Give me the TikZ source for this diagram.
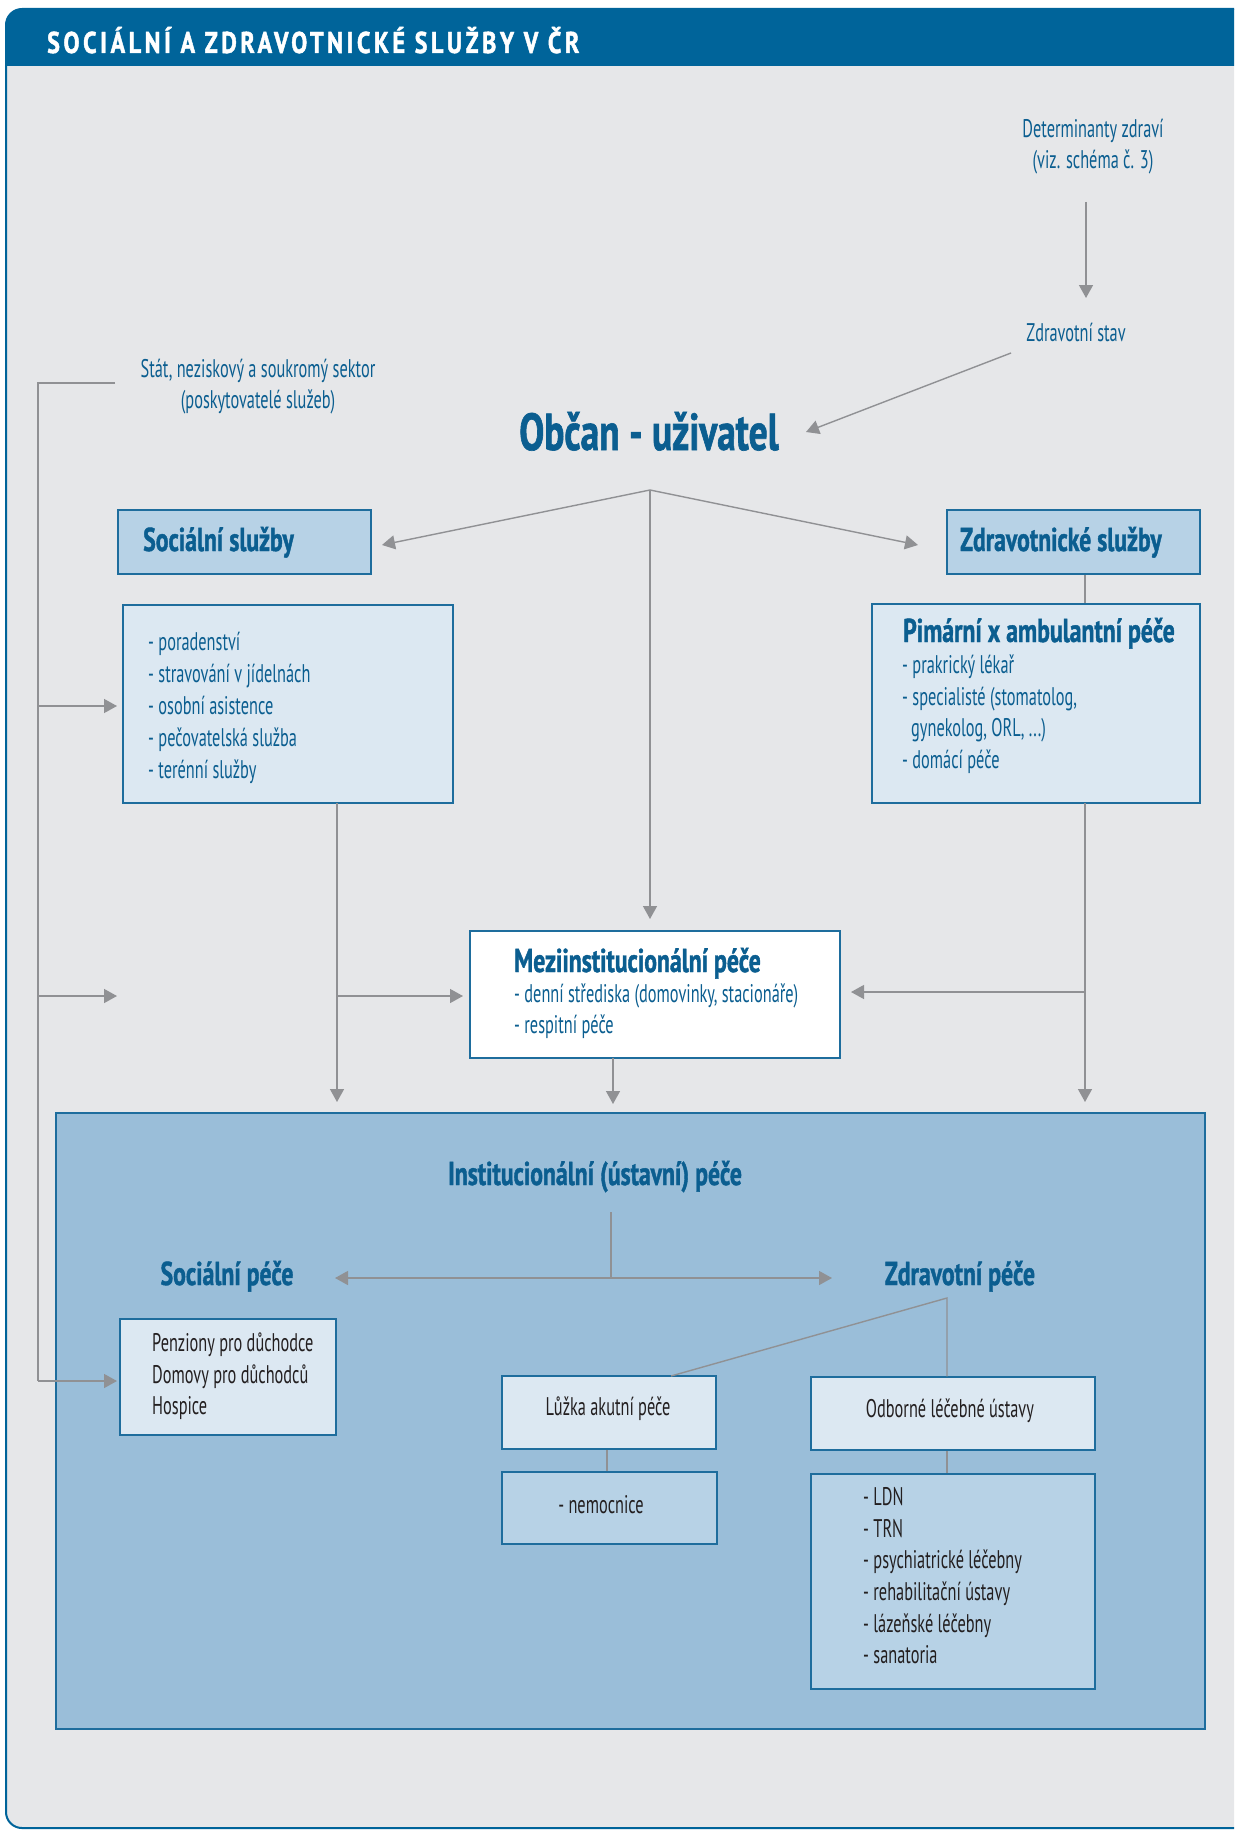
\documentclass[tikz,border=0pt]{standalone}
\usepackage{fontspec}
\setmainfont{PT Sans}[FakeStretch=0.64]
\newfontfamily\boldfont{PT Sans}[FakeStretch=0.72,FakeBold=1.2]
\newfontfamily\headfont{PT Sans}[FakeStretch=0.8,LetterSpace=12,FakeBold=1.5]
\usetikzlibrary{arrows.meta}

\definecolor{hdr}{HTML}{00649A}
\definecolor{bgc}{HTML}{E6E7E9}
\definecolor{txtblue}{HTML}{0B5E90}
\definecolor{txtdark}{HTML}{231F20}
\definecolor{boxline}{HTML}{1E6D9D}
\definecolor{filllight}{HTML}{DCE8F2}
\definecolor{fillmid}{HTML}{B7D2E6}
\definecolor{fillbig}{HTML}{9ABED9}
\definecolor{linegray}{HTML}{909194}

\begin{document}
\begin{tikzpicture}[x=1pt,y=-1pt,
  box/.style={draw=boxline, line width=1.5pt, inner sep=0pt},
  lightbox/.style={box, fill=filllight},
  midbox/.style={box, fill=fillmid},
  itemtxt/.style={font=\fontsize{25.5}{31}\selectfont, text=txtblue, inner sep=0pt},
  darktxt/.style={font=\fontsize{25.5}{31}\selectfont, text=txtdark, inner sep=0pt},
  headtxt/.style={font=\boldfont\bfseries\fontsize{33}{38}\selectfont, text=txtblue, inner sep=0pt},
  conn/.style={draw=linegray, line width=1.4pt},
  arr/.style={conn, -{Triangle[length=13pt,width=14pt]}},
  darr/.style={conn, {Triangle[length=13pt,width=14pt]}-{Triangle[length=13pt,width=14pt]}}]

\useasboundingbox (0,0) rectangle (1234,1830);
\clip (0,0) rectangle (1234,1830);
\fill[white] (0,0) rectangle (1234,1830);

% frame with header band
\begin{scope}
  \clip[rounded corners=16pt] (6,9) rectangle (1300,1828);
  \fill[bgc] (0,0) rectangle (1300,1900);
  \fill[hdr] (0,0) rectangle (1300,66);
\end{scope}
\draw[hdr, line width=2pt, rounded corners=16pt] (1300,9) -- (6,9) -- (6,1828) -- (1300,1828);

\node[anchor=base west, text=white, inner sep=0pt,
      font=\headfont\bfseries\fontsize{30}{34}\selectfont] (title) at (47,53)
  {SOCIÁLNÍ A ZDRAVOTNICKÉ SLUŽBY V ČR};

% ---- upper part ----
\node[itemtxt, anchor=base, align=center] (det) at (1093,169)
  {Determinanty zdraví\\(viz. schéma č. 3)};
\node[itemtxt, anchor=base] (zs) at (1076,341) {Zdravotní stav};
\node[itemtxt, anchor=base, align=center] (stat) at (258,408)
  {Stát, neziskový a soukromý sektor\\(poskytovatelé služeb)};
\node[anchor=base, inner sep=0pt, text=txtblue,
      font=\boldfont\bfseries\fontsize{52}{56}\selectfont] (obcan) at (649,450) {Občan - uživatel};

\node[midbox, minimum width=253pt, minimum height=64pt] (socsl) at (244.5,542) {};
\node[headtxt, anchor=base west] (socslT) at (143,551) {Sociální služby};
\node[midbox, minimum width=253pt, minimum height=64pt] (zdrsl) at (1073.5,542) {};
\node[headtxt, anchor=base west] (zdrslT) at (960,551) {Zdravotnické služby};

\node[lightbox, minimum width=330pt, minimum height=198pt] (soclist) at (288,704) {};
\node[itemtxt, anchor=base west] (s1) at (148,650) {- poradenství};
\node[itemtxt, anchor=base west] (s2) at (148,682) {- stravování v jídelnách};
\node[itemtxt, anchor=base west] (s3) at (148,714) {- osobní asistence};
\node[itemtxt, anchor=base west] (s4) at (148,746) {- pečovatelská služba};
\node[itemtxt, anchor=base west] (s5) at (148,778) {- terénní služby};

\node[lightbox, minimum width=328pt, minimum height=199pt] (pim) at (1036,703.5) {};
\node[headtxt, anchor=base west] (pimT) at (903,642) {Pimární x ambulantní péče};
\node[itemtxt, anchor=base west] (p1) at (902,673) {- prakrický lékař};
\node[itemtxt, anchor=base west] (p2) at (902,705) {- specialisté (stomatolog,};
\node[itemtxt, anchor=base west] (p3) at (911,736) {gynekolog, ORL, ...)};
\node[itemtxt, anchor=base west] (p4) at (902,768) {- domácí péče};

\node[box, fill=white, minimum width=370pt, minimum height=127pt] (mezi) at (655,994.5) {};
\node[headtxt, anchor=base west] (meziT) at (514,972) {Meziinstitucionální péče};
\node[itemtxt, anchor=base west] (m1) at (514,1002) {- denní střediska (domovinky, stacionáře)};
\node[itemtxt, anchor=base west] (m2) at (514,1033) {- respitní péče};

% ---- institutional care ----
\node[box, fill=fillbig, minimum width=1149pt, minimum height=616pt] (inst) at (630.5,1421) {};
\node[headtxt, anchor=base] (instT) at (595,1185) {Institucionální (ústavní) péče};
\node[headtxt, anchor=base] (socp) at (227,1285) {Sociální péče};
\node[headtxt, anchor=base] (zdrp) at (960,1285) {Zdravotní péče};

\node[lightbox, minimum width=216pt, minimum height=116pt] (penz) at (228,1377) {};
\node[darktxt, anchor=base west] (pz1) at (152,1351) {Penziony pro důchodce};
\node[darktxt, anchor=base west] (pz2) at (152,1383) {Domovy pro důchodců};
\node[darktxt, anchor=base west] (pz3) at (152,1414) {Hospice};

\node[lightbox, minimum width=214pt, minimum height=73pt] (luzka) at (609,1412.5) {};
\node[darktxt, anchor=base] (luzkaT) at (608,1415) {Lůžka akutní péče};
\node[midbox, minimum width=215pt, minimum height=72pt] (nemoc) at (609.5,1508) {};
\node[darktxt, anchor=base] (nemocT) at (601,1513) {- nemocnice};

\node[lightbox, minimum width=284pt, minimum height=73pt] (odb) at (953,1413.5) {};
\node[darktxt, anchor=base] (odbT) at (950,1417) {Odborné léčebné ústavy};
\node[midbox, minimum width=284pt, minimum height=215pt] (odbl) at (953,1581.5) {};
\node[darktxt, anchor=base west] (o1) at (863,1505) {- LDN};
\node[darktxt, anchor=base west] (o2) at (863,1537) {- TRN};
\node[darktxt, anchor=base west] (o3) at (863,1568) {- psychiatrické léčebny};
\node[darktxt, anchor=base west] (o4) at (863,1600) {- rehabilitační ústavy};
\node[darktxt, anchor=base west] (o5) at (863,1632) {- lázeňské léčebny};
\node[darktxt, anchor=base west] (o6) at (863,1663) {- sanatoria};

% ---- connector points ----
\coordinate (detA) at (1086,202);
\coordinate (detB) at (1086,298);
\coordinate (zsA) at (1011,353);
\coordinate (obcB) at (806,432);
\coordinate (split) at (650,490);
\coordinate (socTip) at (382,545);
\coordinate (zdrTip) at (918,545);
\coordinate (meziTip) at (650,919);
\coordinate (statA) at (115,383);
\coordinate (statC) at (38,383);
\coordinate (statK1) at (38,706);
\coordinate (statK2) at (38,996);
\coordinate (statK3) at (38,1381);
\coordinate (leftT1) at (117,706);
\coordinate (leftT2) at (117,996);
\coordinate (leftT3) at (117,1381);
\coordinate (socDown) at (337,803);
\coordinate (socJ) at (337,996);
\coordinate (socEnd) at (337,1102);
\coordinate (meziL) at (463,996);
\coordinate (pimDown) at (1085,803);
\coordinate (pimJ) at (1085,992);
\coordinate (pimEnd) at (1085,1102);
\coordinate (meziR) at (851,992);
\coordinate (meziDown) at (613,1058);
\coordinate (meziEnd) at (613,1104);
\coordinate (instA) at (611,1212);
\coordinate (instJ) at (611,1278);
\coordinate (socpTip) at (335,1278);
\coordinate (zdrpTip) at (832,1278);
\coordinate (zdrpJ) at (947,1298);
\coordinate (luzkaTop) at (671,1376);

% ---- connectors ----
\draw[arr] (detA) -- (detB);
\draw[arr] (zsA) -- (obcB);
\draw[arr] (split) -- (socTip);
\draw[arr] (split) -- (zdrTip);
\draw[arr] (split) -- (meziTip);

\draw[conn] (statA) -- (statC) -- (statK3);
\draw[arr] (statK1) -- (leftT1);
\draw[arr] (statK2) -- (leftT2);
\draw[arr] (statK3) -- (leftT3);

\draw[arr] (socDown) -- (socEnd);
\draw[arr] (socJ) -- (meziL);
\draw[arr] (pimDown) -- (pimEnd);
\draw[arr] (pimJ) -- (meziR);
\draw[arr] (meziDown) -- (meziEnd);

\draw[conn] (zdrsl.south -| pimDown) -- (pim.north -| pimDown);

\draw[conn] (instA) -- (instJ);
\draw[darr] (socpTip) -- (zdrpTip);
\draw[conn] (luzkaTop) -- (zdrpJ) -- (zdrpJ |- odb.north);
\draw[conn] (luzka.south -| 607,0) -- (nemoc.north -| 607,0);
\draw[conn] (odb.south -| zdrpJ) -- (odbl.north -| zdrpJ);
\end{tikzpicture}
\end{document}
